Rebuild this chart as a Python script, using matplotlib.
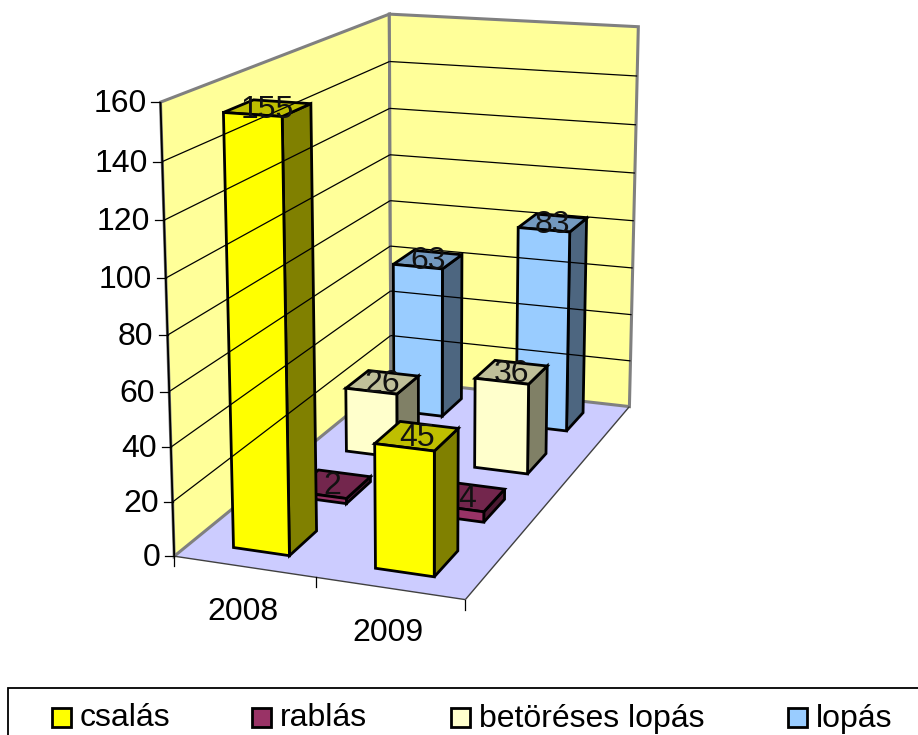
import numpy as np
import matplotlib
matplotlib.use('Agg')
import matplotlib.pyplot as plt
from matplotlib.patches import Polygon, Rectangle

plt.rcParams['font.family'] = ['Liberation Sans', 'DejaVu Sans']

years = ['2008', '2009']
series_names = ['csalás', 'rablás', 'betöréses lopás', 'lopás']
csalas = [155, 45]
rablas = [2, 4]
betoreses = [26, 36]
lopas = [63, 83]
series_colors = ['#FFFF00', '#993366', '#FFFFCC', '#99CCFF']
z_ticks = [0, 20, 40, 60, 80, 100, 120, 140, 160]

# box corners (category, depth, value) and where they land in the picture
box_points = [(0, 0, 0), (2, 0, 0), (2, 4, 0), (0, 4, 0),
              (0, 0, 160), (0, 4, 160), (2, 4, 160)]
pixel_points = [(175, 556), (465, 600), (630, 406), (390, 380),
                (160, 102), (390, 14), (638, 27)]


def fit_camera(world, image):
    # least squares projective camera from the corner pairs
    rows = []
    for (x, y, z), (u, v) in zip(world, image):
        rows.append([x, y, z, 1, 0, 0, 0, 0, -u*x, -u*y, -u*z, -u])
        rows.append([0, 0, 0, 0, x, y, z, 1, -v*x, -v*y, -v*z, -v])
    return np.linalg.svd(np.array(rows, dtype=float))[2][-1].reshape(3, 4)


camera = fit_camera(box_points, pixel_points)


def project(x, y, z):
    u, v, w = camera @ np.array([x, y, z, 1.0])
    return u / w, v / w


def face(ax, corners, color, edge='black', lw=2.0):
    ax.add_patch(Polygon([project(*c) for c in corners], closed=True,
                         facecolor=color, edgecolor=edge, linewidth=lw,
                         joinstyle='miter'))


def line(ax, start, end, color='black', lw=0.9):
    (x0, y0), (x1, y1) = project(*start), project(*end)
    ax.plot([x0, x1], [y0, y1], color=color, lw=lw, solid_capstyle='butt')


def shade(color, factor):
    return tuple(c * factor for c in matplotlib.colors.to_rgb(color))


def draw_bar(ax, cat, depth, value, color, width=0.4, deep=0.46):
    x0, x1 = cat + 0.5 - width / 2, cat + 0.5 + width / 2
    y0, y1 = depth + 0.5 - deep / 2, depth + 0.5 + deep / 2
    face(ax, [(x1, y0, 0), (x1, y1, 0), (x1, y1, value), (x1, y0, value)], shade(color, 0.5))
    face(ax, [(x0, y0, value), (x1, y0, value), (x1, y1, value), (x0, y1, value)], shade(color, 0.75))
    face(ax, [(x0, y0, 0), (x1, y0, 0), (x1, y0, value), (x0, y0, value)], color)


fig = plt.figure(figsize=(9.18, 7.35), dpi=100)
ax = fig.add_axes([0, 0, 1, 1])
ax.set_xlim(0, 918)
ax.set_ylim(735, 0)
ax.axis('off')

# floor first so the grey wall edges stay on top of it
face(ax, [(0, 0, 0), (2, 0, 0), (2, 4, 0), (0, 4, 0)], '#CCCCFF', edge='none', lw=0)
face(ax, [(0, 0, 0), (0, 4, 0), (0, 4, 160), (0, 0, 160)], '#FFFF99', edge='#808080', lw=2.2)
face(ax, [(0, 4, 0), (2, 4, 0), (2, 4, 160), (0, 4, 160)], '#FFFF99', edge='#808080', lw=2.2)

for z in z_ticks[1:-1]:
    line(ax, (0, 0, z), (0, 4, z))
    line(ax, (0, 4, z), (2, 4, z))

# axis lines, ticks and tick labels
line(ax, (0, 0, 0), (0, 0, 160), lw=1.3)
line(ax, (0, 0, 0), (2, 0, 0), color='#404040', lw=1)
line(ax, (2, 0, 0), (2, 4, 0), color='#404040', lw=1)
for z in z_ticks:
    px, py = project(0, 0, z)
    ax.plot([px - 9, px], [py, py], color='black', lw=0.9)
    ax.text(px - 14, py + 2, str(z), ha='right', va='center', fontsize=23)
for cat in range(3):
    px, py = project(cat, 0, 0)
    ax.plot([px, px], [py, py + 10], color='black', lw=0.9)
for cat, year in enumerate(years):
    px, py = project(cat + 0.5, 0, 0)
    ax.text(px - 1.5, py + 45, year, ha='center', va='center', fontsize=23)

# bars, back row first
all_series = [csalas, rablas, betoreses, lopas]
for depth in range(3, -1, -1):
    for cat in range(2):
        draw_bar(ax, cat, depth, all_series[depth][cat], series_colors[depth])

for depth, values in enumerate(all_series):
    for cat, value in enumerate(values):
        px, py = project(cat + 0.5, depth + 0.5, value)
        ax.text(px, py + 2, str(value), ha='center', va='center', fontsize=23, color='#111111')

# legend
ax.add_patch(Rectangle((8, 688), 930, 60, facecolor='white', edgecolor='black', lw=1.3))
legend_x = [52, 252, 451, 788]
for x, name, color in zip(legend_x, series_names, series_colors):
    ax.add_patch(Rectangle((x, 708), 19, 19, facecolor=color, edgecolor='black', lw=2.0))
    ax.text(x + 28, 718.5, name, ha='left', va='center', fontsize=23)

fig.savefig('out.png', dpi=100)
